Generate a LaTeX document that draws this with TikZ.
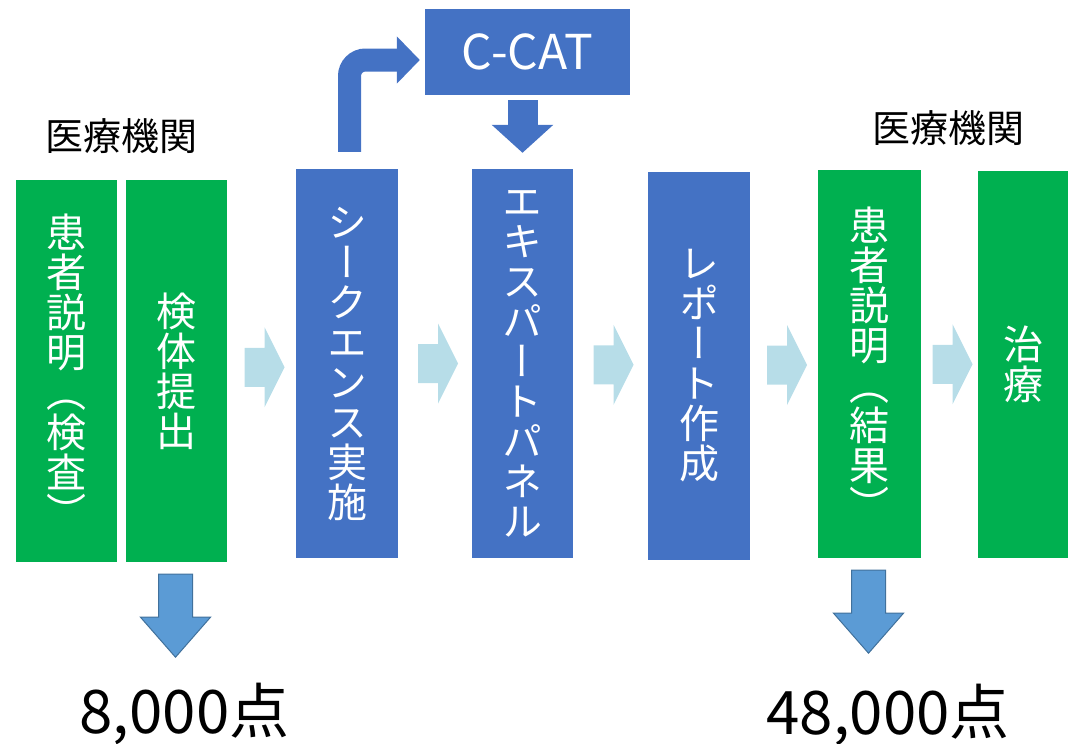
\documentclass[tikz,border=0pt]{standalone}
\usepackage{fontspec}
\usetikzlibrary{calc,arrows.meta}
\setmainfont{Noto Sans CJK JP}
\newfontfamily\jpvert[RawFeature=+vert]{Noto Sans CJK JP}
\definecolor{kgreen}{HTML}{00B050}
\definecolor{kblue}{HTML}{4472C4}
\definecolor{kpale}{HTML}{B7DDE8}
\definecolor{kdown}{HTML}{5B9BD5}
\definecolor{kdownline}{HTML}{41719C}
\begin{document}
\begin{tikzpicture}[x=1pt,y=-1pt,
    gbox/.style={fill=kgreen,text=white,inner sep=0pt,align=center,
      font=\jpvert\fontsize{40}{40}\selectfont},
    bbox/.style={gbox,fill=kblue},
    orglabel/.style={font=\fontsize{38}{38}\selectfont},
    numlabel/.style={font=\fontsize{60}{60}\selectfont,anchor=base,inner sep=0pt}]
  \useasboundingbox (0,0) rectangle (1068,744);
  % green = hospital side, blue = sequencing side
  \node[gbox,minimum width=101,minimum height=382] (expl) at (66.5,371)
    {患\\者\\説\\明\\（\\検\\査\\）};
  \node[gbox,minimum width=101,minimum height=382] (spec) at (176.5,371) {検\\体\\提\\出};
  \node[bbox,minimum width=102,minimum height=389] (seq) at (347,363.5) {シ\\ー\\ク\\エ\\ン\\ス\\実\\施};
  \node[bbox,minimum width=101,minimum height=389] (ep) at (522.5,363.5) {エ\\キ\\ス\\パ\\ー\\ト\\パ\\ネ\\ル};
  \node[bbox,minimum width=102,minimum height=388] (rep) at (699,366) {レ\\ポ\\ー\\ト\\作\\成};
  \node[gbox,minimum width=103,minimum height=388] (res) at (869.5,364)
    {患\\者\\説\\明\\（\\結\\果\\）};
  \node[gbox,minimum width=90,minimum height=387] (tx) at (1023,364.5) {治\\療};
  \node[fill=kblue,text=white,minimum width=205,minimum height=86,inner sep=0pt,
    font=\fontsize{48}{48}\selectfont] (ccat) at (527.5,52) {C-CAT};
  \node[orglabel] (orgleft) at (121,136) {医療機関};
  \node[orglabel] (orgright) at (948,128) {医療機関};
  % pale step arrows between the boxes
  \foreach \a/\b in {spec/seq,seq/ep,ep/rep,rep/res,res/tx}
    \fill[kpale] ($(\a.east)!0.5!(\b.west)$) ++(-17,-19.5) -- ++(20,0) -- ++(0,-20.5)
      -- ++(20,40) -- ++(-20,40) -- ++(0,-20.5) -- ++(-20,0) -- cycle;
  % to and from C-CAT
  \coordinate (bend0) at ($(seq.north)+(2.5,-17)$);
  \coordinate (bend1) at ($(ccat.west)+(-5,8)$);
  \draw[kblue,line width=23pt,rounded corners=16pt,-{Triangle[length=23pt,width=46pt]}]
    (bend0) |- (bend1);
  \draw[kblue,line width=30pt,-{Triangle[length=28pt,width=60pt]}]
    ($(ccat.south -| ep.north)+(0,5)$) -- ($(ep.north)+(0,-16)$);
  % fees
  \foreach \b in {spec,res}
    \filldraw[fill=kdown,draw=kdownline,line width=1pt] ($(\b.south)+(-1,12)$) ++(-17,0)
      -- ++(34,0) -- ++(0,43) -- ++(18,0) -- ++(-35,40) -- ++(-35,-40) -- ++(18,0) -- cycle;
  \node[numlabel] (ptleft) at (184.5,733) {8,000点};
  \node[numlabel] (ptright) at (888,734) {48,000点};
\end{tikzpicture}
\end{document}
